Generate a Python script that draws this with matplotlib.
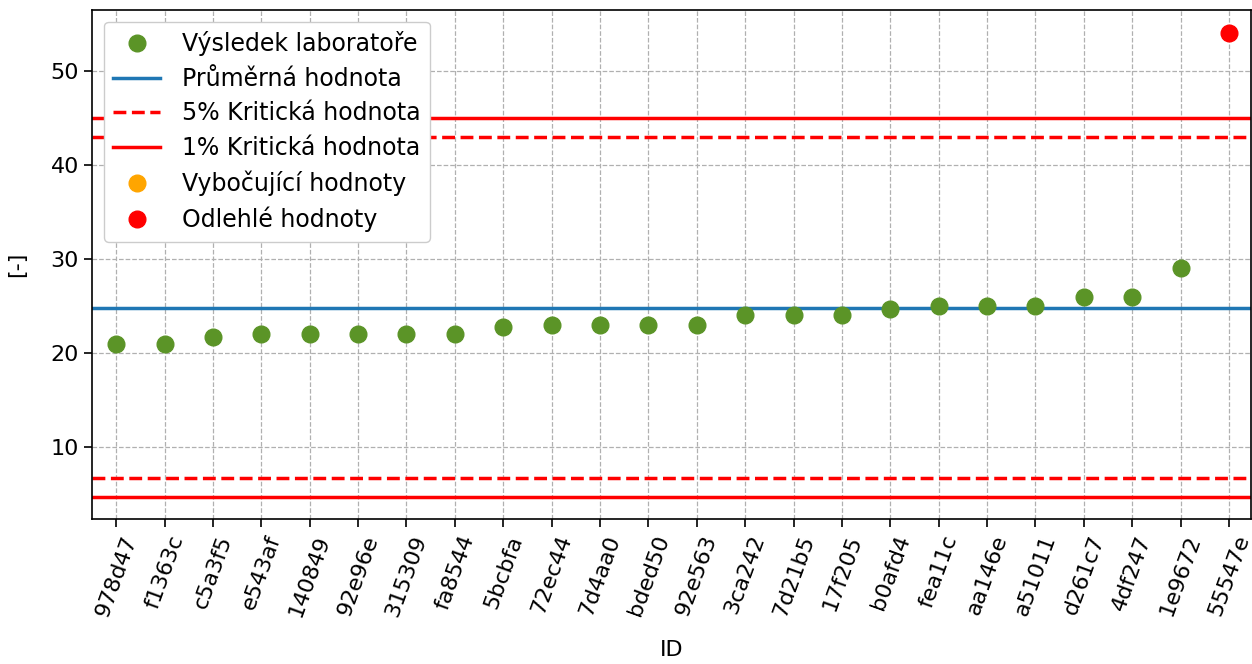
import matplotlib
matplotlib.use('Agg')
import matplotlib.pyplot as plt
import numpy as np

# lab IDs and their results, sorted ascending
ids = ['978d47', 'f1363c', 'c5a3f5', 'e543af', '140849', '92e96e', '315309',
       'fa8544', '5bcbfa', '72ec44', '7d4aa0', 'bded50', '92e563', '3ca242',
       '7d21b5', '17f205', 'b0afd4', 'fea11c', 'aa146e', 'a51011', 'd261c7',
       '4df247', '1e9672', '55547e']
values = [21, 21, 21.7, 22, 22, 22, 22, 22, 22.8, 23, 23, 23, 23, 24, 24, 24,
          24.7, 25, 25, 25, 26, 26, 29, 54]
outlier_ids = ['55547e']
straggler_ids = []

mean_val = 24.8
crit5 = [6.7, 43.0]
crit1 = [4.65, 45.0]

plt.rcParams['font.size'] = 16

fig, ax = plt.subplots(figsize=(12.52, 6.64), dpi=100)
fig.subplots_adjust(left=0.0735, right=0.999, top=0.985, bottom=0.218)

x = np.arange(len(ids))
vals = np.array(values)
is_out = np.array([i in outlier_ids for i in ids])
is_str = np.array([i in straggler_ids for i in ids])
normal = ~is_out & ~is_str

ax.plot(x[normal], vals[normal], 'o', color='#5b9427', markersize=12,
        label='Výsledek laboratoře', zorder=3)
ax.axhline(mean_val, color='tab:blue', lw=2.5, label='Průměrná hodnota')
ax.axhline(crit5[0], color='red', lw=2.5, ls='--', label='5% Kritická hodnota')
ax.axhline(crit5[1], color='red', lw=2.5, ls='--')
ax.axhline(crit1[0], color='red', lw=2.5, label='1% Kritická hodnota')
ax.axhline(crit1[1], color='red', lw=2.5)
ax.plot(x[is_str], vals[is_str], 'o', color='orange', markersize=12,
        label='Vybočující hodnoty', zorder=3)
ax.plot(x[is_out], vals[is_out], 'o', color='red', markersize=12,
        label='Odlehlé hodnoty', zorder=3)

ax.set_xticks(x)
ax.set_xticklabels(ids, rotation=70)
ax.tick_params(length=6, width=1.2)
for s in ax.spines.values():
    s.set_linewidth(1.2)
ax.set_xlim(-0.5, 23.45)
ax.set_ylim(2.3, 56.5)
ax.grid(True, ls='--', color='#b0b0b0', lw=0.9)
ax.set_axisbelow(True)
ax.set_xlabel('ID', labelpad=15)
ax.set_ylabel('[-]', labelpad=17)
leg = ax.legend(loc='upper left', fontsize=17, handlelength=2.0,
                handletextpad=0.9, labelspacing=0.45, framealpha=1)
leg.set_zorder(5)

plt.savefig('out.png', dpi=100)
